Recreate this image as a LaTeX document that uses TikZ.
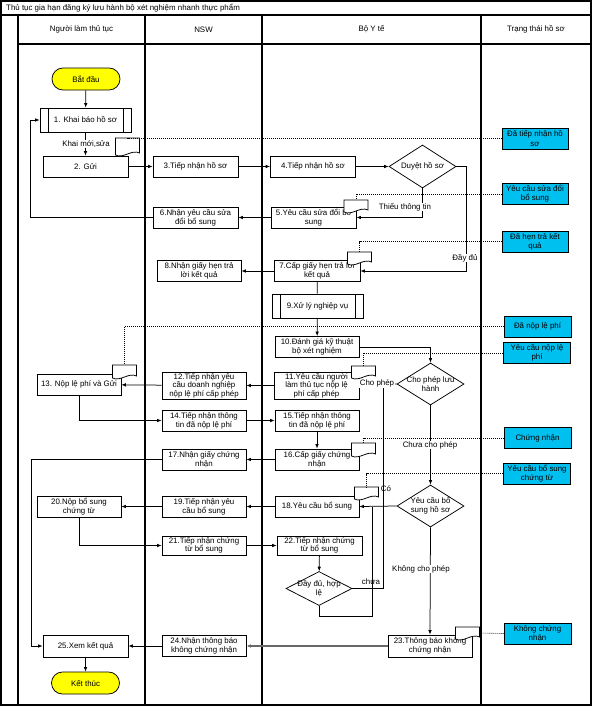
\documentclass[tikz,border=0pt]{standalone}
\usepackage{fontspec}
\setmainfont{Liberation Sans}
\usetikzlibrary{shapes.geometric,arrows.meta,calc}
\definecolor{statc}{RGB}{0,192,240}
\definecolor{termc}{RGB}{255,255,0}
\definecolor{grayln}{RGB}{105,105,105}
\tikzset{
 every node/.style={font=\fontsize{7.9}{9.2}\selectfont},
 box/.style={draw, fill=white, minimum width=85pt, minimum height=21pt, inner sep=1pt, align=center},
 pbox/.style={box, minimum width=91pt, minimum height=24pt,
   path picture={\draw ([xshift=8pt]path picture bounding box.north west) -- ([xshift=8pt]path picture bounding box.south west);
                 \draw ([xshift=-8pt]path picture bounding box.north east) -- ([xshift=-8pt]path picture bounding box.south east);}},
 termbox/.style={draw, fill=termc, rounded corners=11pt, minimum width=68pt, minimum height=22pt},
 statbox/.style={draw, fill=statc, minimum width=67pt, minimum height=21pt, inner sep=1pt, align=center},
 dia/.style={draw, fill=white, diamond, inner sep=0pt},
 diatext/.style={align=center, inner sep=0pt},
 tight/.style={font=\fontsize{7.9}{8.5}\selectfont},
 arr/.style={-{Latex[length=4.5pt,width=3.6pt]}},
 dotln/.style={dash pattern=on 1pt off 1pt, line width=0.6pt},
 lbl/.style={fill=white, inner sep=0.6pt},
 frame/.style={line width=1.1pt},
 docbox/.style={inner sep=0pt, outer sep=0pt, minimum width=24pt},
}
\newcommand\mydoc[4]{%
  \node[docbox, minimum height=#4pt] (#1) at (#2,#3) {};
  \draw[fill=white] (#1.south west) -- (#1.north west) -- (#1.north east) -- ([yshift=2pt]#1.south east)
    .. controls ([xshift=-8pt,yshift=6pt]#1.south east) and ([xshift=8pt,yshift=-4pt]#1.south west) .. (#1.south west) -- cycle;}
\begin{document}
\begin{tikzpicture}[x=1pt,y=-1pt,line width=0.75pt]
\useasboundingbox (0,0) rectangle (593,707);
% frame
\draw[frame] (1,1) rectangle (591,15);
\draw[frame] (1,15) rectangle (591,705);
\draw[frame] (18,15) -- (18,705);
\draw[frame] (145,15) -- (145,705);
\draw[frame] (262,15) -- (262,705);
\draw[frame] (481,15) -- (481,705);
\draw[frame] (18,44) -- (591,44);
\node[anchor=west] (title) at (2.5,8) {Thủ tục gia hạn đăng ký lưu hành bộ xét nghiệm nhanh thực phẩm};
\node (h1) at (81.5,29.5) {Người làm thủ tục};
\node (h2) at (203.5,29.5) {NSW};
\node (h3) at (371.5,29.5) {Bộ Y tế};
\node (h4) at (536,29.5) {Trạng thái hồ sơ};

% terminals
\node[termbox] (bd) at (86,79) {Bắt đầu};
\node[termbox] (kt) at (85.5,683) {Kết thúc};

% boxes
\node[pbox] (n1) at (85.5,120) {1. Khai báo hồ sơ};
\node[box] (n2) at (85.5,166.5) {2. Gửi};
\node[box] (n3) at (195.5,166.5) {3.Tiếp nhận hồ sơ};
\node[box] (n4) at (313,166.5) {4.Tiếp nhận hồ sơ};
\node[dia, minimum width=67pt, minimum height=43pt] (dDuyet) at (422.5,166.5) {};
\node[diatext] (tDuyet) at (dDuyet.center) {Duyệt hồ sơ};
\node[box] (n5) at (313.5,217.5) {5.Yêu cầu sửa đổi bổ\\sung};
\node[box] (n6) at (195.5,217.5) {6.Nhận yêu cầu sửa\\đổi bổ sung};
\node[box, minimum width=86pt] (n7) at (317,271) {7.Cấp giấy hẹn trả lời\\kết quả};
\node[box, minimum width=84pt] (n8) at (199,271) {8.Nhận giấy hẹn trả\\lời kết quả};
\node[pbox] (n9) at (317.5,306) {9.Xử lý nghiệp vụ};
\node[box, minimum width=84pt] (n10) at (317,347) {10.Đánh giá kỹ thuật\\bộ xét nghiệm};
\node[dia, minimum width=67pt, minimum height=42pt] (dCP) at (430.5,384) {};
\node[diatext] (tCP) at (dCP.center) {Cho phép lưu\\hành};
\node[box, tight, minimum height=27pt] (n11) at (316.5,385.5) {11.Yêu cầu người\\làm thủ tục nộp lệ\\phí cấp phép};
\node[box, tight, minimum width=84pt, minimum height=27pt] (n12) at (204,385.5) {12.Tiếp nhận yêu\\cầu doanh nghiệp\\nộp lệ phí cấp phép};
\node[box, minimum width=84pt] (n13) at (79,384.5) {13. Nộp lệ phí và Gửi};
\node[box, minimum width=84pt] (n14) at (204,420.5) {14.Tiếp nhận thông\\tin đã nộp lệ phí};
\node[box, minimum width=84pt] (n15) at (317,420.5) {15.Tiếp nhận thông\\tin đã nộp lệ phí};
\node[box, minimum width=84pt] (n16) at (317,459.5) {16.Cấp giấy chứng\\nhận};
\node[box, minimum width=84pt] (n17) at (204,459.5) {17.Nhận giấy chứng\\nhận};
\node[dia, minimum width=67pt, minimum height=42pt] (dYC) at (430.5,506) {};
\node[diatext] (tYC) at (dYC.center) {Yêu cầu bổ\\sung hồ sơ};
\node[box, minimum width=84pt] (n18) at (317,506.5) {18.Yêu cầu bổ sung};
\node[box, minimum width=84pt] (n19) at (204,506.5) {19.Tiếp nhận yêu\\cầu bổ sung};
\node[box, minimum width=84pt] (n20) at (79,506.5) {20.Nộp bổ sung\\chứng từ};
\node[box, tight, minimum width=84pt, minimum height=19pt] (n21) at (204,545.5) {21.Tiếp nhận chứng\\từ bổ sung};
\node[box, tight, minimum width=85pt, minimum height=19pt] (n22) at (319.5,545.5) {22.Tiếp nhận chứng\\từ bổ sung};
\node[dia, minimum width=66pt, minimum height=34pt] (dDD) at (319,588.5) {};
\node[diatext] (tDD) at (dDD.center) {Đầy đủ, hợp\\lệ};
\node[box, minimum width=84pt, minimum height=22pt] (n23) at (430,646) {23.Thông báo không\\chứng nhận};
\node[box, minimum width=84pt] (n24) at (204,646) {24.Nhận thông báo\\không chứng nhận};
\node[box, minimum width=85pt, minimum height=22pt] (n25) at (85.5,646) {25.Xem kết quả};

% status boxes
\node[statbox, minimum width=66pt] (s1) at (535,138.5) {Đã tiếp nhận hồ\\sơ};
\node[statbox, minimum width=66pt] (s2) at (535,194) {Yêu cầu sửa đổi\\bổ sung};
\node[statbox, minimum width=66pt] (s3) at (535,241.5) {Đã hẹn trả kết\\quả};
\node[statbox] (s4) at (537.5,326.5) {Đã nộp lệ phí};
\node[statbox] (s5) at (537,353) {Yêu cầu nộp lệ\\phí};
\node[statbox] (s6) at (537.5,438) {Chứng nhận};
\node[statbox] (s7) at (537,473.5) {Yêu cầu bổ sung\\chứng từ};
\node[statbox] (s8) at (537.5,633.5) {Không chứng\\nhận};

% coordinates
\coordinate (cD) at (466,271);
\coordinate (c6) at (30,217.5);
\coordinate (c17) at (31,459.5);
\coordinate (cJ1) at (383,384);
\coordinate (cJ2) at (372,506.5);
\coordinate (cB) at (319,616);

% connectors
\draw[arr] (bd) -- (n1);
\draw[arr] (n1) -- (n2);
\draw[arr] (n2) -- (n3);
\draw[arr] (n3) -- (n4);
\draw[arr] (n4) -- (dDuyet);
\draw[arr] (dDuyet.east) -| (cD) -- (n7.east);
\draw[arr] (dDuyet.south) |- (n5.east);
\draw[arr] (n5) -- (n6);
\draw[arr] (n6.west) -- (c6) |- (n1.west);
\draw[arr] (n7) -- (n8);
\draw (n7) -- (n9);
\draw[arr] (n9) -- (n10);
\draw[arr] (n10.east) -| (dCP.north);
\draw[arr] (dCP.west) -- (n11.east);
\draw[arr] (n11) -- (n12);
\draw[arr] (n12) -- (n13);
\draw[arr] (n13.south) |- (n14.west);
\draw[arr] (n14) -- (n15);
\draw[arr] (n15) -- (n16);
\draw[arr] (n16) -- (n17);
\draw[arr] (n17.west) -- (c17) |- (n25.west);
\draw[arr] (dCP.south) -- (dYC.north);
\draw[arr] (dYC.west) -- (n18.east);
\draw[arr] (n18) -- (n19);
\draw[arr] (n19) -- (n20);
\draw[arr] (n20.south) |- (n21.west);
\draw[arr] (n21) -- (n22);
\draw[arr] (n22) -- (dDD);
\draw (dDD.east) -| (cJ1);
\draw (dDD.south) -- (cB) -| (cJ2);
\draw[arr] (dYC.south) -- (n23.north);
\draw[draw=grayln, line width=1.6pt, {Latex[length=4.5pt,width=3.6pt]}-] (n24) -- (n23);
\draw[arr] (n24) -- (n25);
\draw[arr] (n25) -- (kt);

% documents
\mydoc{d2}{127.5}{146.5}{17}
\mydoc{d5}{356}{206}{12}
\mydoc{d7}{359.5}{258}{12}
\mydoc{d11}{363.5}{372}{12}
\mydoc{d13}{124.5}{371.5}{13}
\mydoc{d16}{363.5}{449.5}{13}
\mydoc{d18}{366.5}{493}{12}
\mydoc{d23}{467.5}{633}{12}

% dotted status links
\draw[dotln] (s1.west) -| (d2.north);
\draw[dotln] (s2.west) -| (d5.north);
\draw[dotln] (s3.west) -| (d7.north);
\draw[dotln] (s4.west) -| (d13.north);
\draw[dotln] (s5.west) -| (d11.north);
\draw[dotln] (s6.west) -| (d16.north);
\draw[dotln] (s7.west) -| (d18.north);
\draw[dotln] (s8.west) -- (d23.east);

% labels
\node[lbl] (lKM) at (86,144) {Khai mới,sửa};
\node[lbl] (lTT) at (405,207) {Thiếu thông tin};
\node[lbl] (lDD) at (465,258) {Đầy đủ};
\node[lbl] (lCP) at (377,383.5) {Cho phép};
\node[lbl] (lCCP) at (430,445) {Chưa cho phép};
\node (lCo) at (386,489) {Có};
\node[lbl] (lKCP) at (421,569) {Không cho phép};
\node (lChua) at (371,582) {chưa};
\end{tikzpicture}
\end{document}
